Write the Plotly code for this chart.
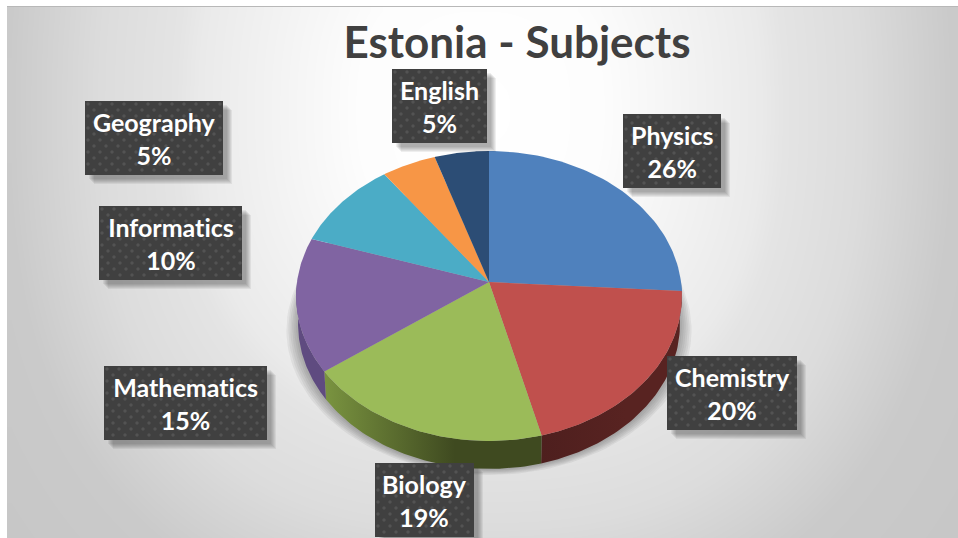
import numpy as np
import plotly.graph_objects as go

W, H = 958, 538

# chart data
subjects = ["Physics", "Chemistry", "Biology", "Mathematics", "Informatics", "Geography", "English"]
shares = [26, 20, 19, 15, 10, 5, 5]

# styles
top_colors = ["#4f81bd", "#c0504d", "#9bbb59", "#8064a2", "#4bacc6", "#f79646", "#2c4d75"]
wall_left = ["#3a5f8c", "#4e1f1e", "#7a9440", "#5f4b80", "#38808f", "#b06a30", "#1f3755"]
wall_right = ["#3a5f8c", "#582321", "#3f4a20", "#5f4b80", "#38808f", "#b06a30", "#1f3755"]

# label boxes, pixels: left, right, top, bottom
box_left = [623, 667, 375, 104, 99, 85, 392]
box_right = [721, 797, 474, 267, 242, 223, 487]
box_top = [114, 356, 463, 366, 206, 101, 69]
box_bottom = [188, 430, 537, 440, 280, 175, 143]

# pie geometry, disc seen in perspective, drawn on pixel-sized axes
CX, CY = 489, 282
RX, RY = 192, 143.6
PERSP = 0.0965
DEPTH = 28


def rim(deg, scale=1.0, dy=0.0):
    t = np.radians(deg)
    w = 1 + PERSP * np.cos(t)
    return CX + scale * RX * np.sin(t) / w, CY + dy - RY * np.cos(t) / w


def poly(x, y, color, **kw):
    return go.Scatter(x=x, y=y, mode="lines", fill="toself", fillcolor=color,
                      line=dict(width=0), hoverinfo="skip", showlegend=False, **kw)


fig = go.Figure()

# background gradient, brightest near the title
gx = np.arange(11, W + 8, 8)
gy = np.arange(11, H + 8, 8)
xx, yy = np.meshgrid(gx, gy)
dist = (np.abs((xx - 480) / 400) ** 2.5 + np.abs((yy - 110) / 440) ** 2.5) ** 0.4
fig.add_trace(go.Heatmap(
    x=gx, y=gy, z=dist, zmin=0, zmax=1.5, zsmooth="best", showscale=False, hoverinfo="skip",
    colorscale=[[0, "#ffffff"], [0.2, "#fdfdfd"], [0.467, "#eaeaea"], [0.507, "#e4e4e4"],
                [0.633, "#dcdcdc"], [0.787, "#cacaca"], [1, "#c6c6c6"]],
))

# soft shadow under the disc
tt = np.linspace(0, 360, 181)
for grow, off in [(1.05, 14), (1.04, 13), (1.03, 12), (1.02, 11), (1.01, 10), (1.0, 9)]:
    sx, sy = rim(tt, scale=grow, dy=DEPTH + off - 8)
    fig.add_trace(poly(sx, sy, "rgba(60,60,60,0.07)"))

# wedge angles from the shares
ends = np.cumsum(shares) / sum(shares) * 360
starts = np.concatenate([[0], ends[:-1]])

# side walls, only the front half of the disc shows them
for a, b, left, right in zip(starts, ends, wall_left, wall_right):
    a2, b2 = max(a, 90), min(b, 270)
    if a2 >= b2:
        continue
    t = np.linspace(a2, b2, 60)
    ux, uy = rim(t)
    lx, ly = rim(t, scale=0.99, dy=DEPTH)
    fig.add_trace(poly(np.concatenate([ux, lx[::-1]]), np.concatenate([uy, ly[::-1]]), left,
                       fillgradient=dict(type="horizontal", colorscale=[[0, left], [0.6, right], [1, right]])))

# top face
for a, b, color in zip(starts, ends, top_colors):
    t = np.linspace(a, b, 60)
    rx, ry = rim(t)
    fig.add_trace(poly(np.concatenate([[CX], rx, [CX]]), np.concatenate([[CY], ry, [CY]]), color))

# label boxes
for name, share, x0, x1, y0, y1 in zip(subjects, shares, box_left, box_right, box_top, box_bottom):
    for off in [9, 8, 7, 6, 5, 4]:
        fig.add_trace(poly([x0 + off, x1 + off, x1 + off, x0 + off, x0 + off],
                           [y0 + off, y0 + off, y1 + off, y1 + off, y0 + off],
                           "rgba(50,50,50,0.08)"))
    fig.add_trace(poly([x0, x1, x1, x0, x0], [y0, y0, y1, y1, y0], "#404040"))

    # dotted texture of the box fill
    dx, dy = [], []
    for r, y in enumerate(np.arange(y0 + 3, y1, 6)):
        for x in np.arange(x0 + 3 + (r % 2) * 6, x1, 12):
            dx.append(x)
            dy.append(y)
    fig.add_trace(go.Scatter(x=dx, y=dy, mode="markers", hoverinfo="skip", showlegend=False,
                             marker=dict(size=3.5, color="rgba(255,255,255,0.10)", line=dict(width=0))))

    fig.add_annotation(x=(x0 + x1) / 2, y=(y0 + y1) / 2, text=f"<b>{name}<br>{share}%</b>",
                       showarrow=False, xanchor="center", yanchor="middle",
                       font=dict(family="Lato", size=25, color="#ffffff"))

fig.update_xaxes(range=[0, W], visible=False, fixedrange=True)
fig.update_yaxes(range=[H, 0], visible=False, fixedrange=True)

# thin top edge of the chart frame
fig.add_shape(type="line", x0=7, x1=W, y0=6.5, y1=6.5, line=dict(color="#b8b8b8", width=1))

fig.update_layout(
    width=W, height=H,
    margin=dict(l=0, r=0, t=0, b=0),
    paper_bgcolor="#ffffff",
    plot_bgcolor="#ffffff",
    showlegend=False,
    title=dict(text="<b>Estonia - Subjects</b>", x=517 / W, xanchor="center",
               y=1 - 43 / H, yanchor="middle",
               font=dict(family="Lato", size=44, color="#404040")),
)

# page margin would push the figure 8px off, ligatures do not match the original text
page_js = """
document.body.style.margin = '0';
document.body.style.overflow = 'hidden';
var st = document.createElement('style');
st.textContent = 'text{font-variant-ligatures:none!important;font-feature-settings:"liga" 0,"clig" 0,"calt" 0,"dlig" 0!important;}';
document.head.appendChild(st);
"""
fig.write_html("out.html", post_script=page_js, config={"displayModeBar": False})
